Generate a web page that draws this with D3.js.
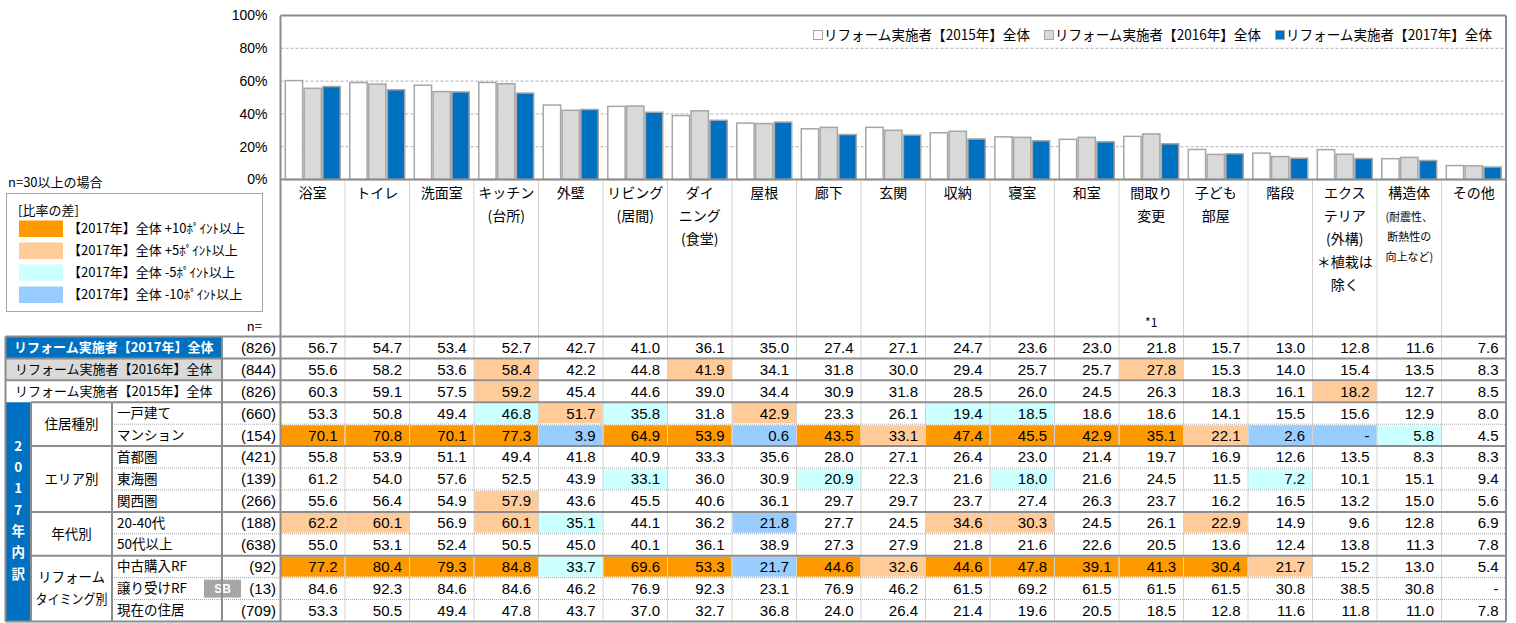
<!DOCTYPE html>
<html lang="ja">
<head>
<meta charset="utf-8">
<script src="https://cdn.jsdelivr.net/npm/d3@7"></script>
<style>
  body { margin: 0; background: #fff; }
  svg text { font-family: "Noto Sans CJK JP", sans-serif; fill: #000; }
  svg text.num { font-family: "Liberation Sans", Arial, sans-serif; }
</style>
</head>
<body>
<svg id="chart" width="1516" height="623"></svg>
<script>
// column headers
const categories = ["浴室", "トイレ", "洗面室", "キッチン\n(台所)", "外壁", "リビング\n(居間)", "ダイ\nニング\n(食堂)",
  "屋根", "廊下", "玄関", "収納", "寝室", "和室", "間取り\n変更", "子ども\n部屋", "階段",
  "エクス\nテリア\n(外構)\n＊植栽は\n除く", "構造体", "その他"];
const categoryNotes = ["", "", "", "", "", "", "", "", "", "", "", "", "", "*1", "", "", "", "(耐震性、\n断熱性の\n向上など)", ""];

// chart series
const years = ["2015", "2016", "2017"];
const seriesLabels = ["リフォーム実施者【2015年】全体", "リフォーム実施者【2016年】全体", "リフォーム実施者【2017年】全体"];
const yTicks = [0, 20, 40, 60, 80, 100];

// table rows
const rowLabels = ["リフォーム実施者【2017年】全体", "リフォーム実施者【2016年】全体", "リフォーム実施者【2015年】全体",
  "一戸建て", "マンション", "首都圏", "東海圏", "関西圏", "20-40代", "50代以上", "中古購入RF", "譲り受けRF", "現在の住居"];
const rowN = [826, 844, 826, 660, 154, 421, 139, 266, 188, 638, 92, 13, 709];
const groupLabels = ["住居種別", "エリア別", "年代別", "リフォーム\nタイミング別"];
const groupRows = [[3, 4], [5, 7], [8, 9], [10, 12]];
const breakdownLabel = ["2", "0", "1", "7", "年", "内", "訳"];

const total2017 = [56.7, 54.7, 53.4, 52.7, 42.7, 41.0, 36.1, 35.0, 27.4, 27.1, 24.7, 23.6, 23.0, 21.8, 15.7, 13.0, 12.8, 11.6, 7.6];
const total2016 = [55.6, 58.2, 53.6, 58.4, 42.2, 44.8, 41.9, 34.1, 31.8, 30.0, 29.4, 25.7, 25.7, 27.8, 15.3, 14.0, 15.4, 13.5, 8.3];
const total2015 = [60.3, 59.1, 57.5, 59.2, 45.4, 44.6, 39.0, 34.4, 30.9, 31.8, 28.5, 26.0, 24.5, 26.3, 18.3, 16.1, 18.2, 12.7, 8.5];
const detached = [53.3, 50.8, 49.4, 46.8, 51.7, 35.8, 31.8, 42.9, 23.3, 26.1, 19.4, 18.5, 18.6, 18.6, 14.1, 15.5, 15.6, 12.9, 8.0];
const condo = [70.1, 70.8, 70.1, 77.3, 3.9, 64.9, 53.9, 0.6, 43.5, 33.1, 47.4, 45.5, 42.9, 35.1, 22.1, 2.6, null, 5.8, 4.5];
const shutoken = [55.8, 53.9, 51.1, 49.4, 41.8, 40.9, 33.3, 35.6, 28.0, 27.1, 26.4, 23.0, 21.4, 19.7, 16.9, 12.6, 13.5, 8.3, 8.3];
const tokai = [61.2, 54.0, 57.6, 52.5, 43.9, 33.1, 36.0, 30.9, 20.9, 22.3, 21.6, 18.0, 21.6, 24.5, 11.5, 7.2, 10.1, 15.1, 9.4];
const kansai = [55.6, 56.4, 54.9, 57.9, 43.6, 45.5, 40.6, 36.1, 29.7, 29.7, 23.7, 27.4, 26.3, 23.7, 16.2, 16.5, 13.2, 15.0, 5.6];
const age20to40 = [62.2, 60.1, 56.9, 60.1, 35.1, 44.1, 36.2, 21.8, 27.7, 24.5, 34.6, 30.3, 24.5, 26.1, 22.9, 14.9, 9.6, 12.8, 6.9];
const age50plus = [55.0, 53.1, 52.4, 50.5, 45.0, 40.1, 36.1, 38.9, 27.3, 27.9, 21.8, 21.6, 22.6, 20.5, 13.6, 12.4, 13.8, 11.3, 7.8];
const usedPurchase = [77.2, 80.4, 79.3, 84.8, 33.7, 69.6, 53.3, 21.7, 44.6, 32.6, 44.6, 47.8, 39.1, 41.3, 30.4, 21.7, 15.2, 13.0, 5.4];
const inherited = [84.6, 92.3, 84.6, 84.6, 46.2, 76.9, 92.3, 23.1, 76.9, 46.2, 61.5, 69.2, 61.5, 61.5, 61.5, 30.8, 38.5, 30.8, null];
const currentHome = [53.3, 50.5, 49.4, 47.8, 43.7, 37.0, 32.7, 36.8, 24.0, 26.4, 21.4, 19.6, 20.5, 18.5, 12.8, 11.6, 11.8, 11.0, 7.8];

const rowValues = [total2017, total2016, total2015, detached, condo, shutoken, tokai, kansai,
  age20to40, age50plus, usedPurchase, inherited, currentHome];
const seriesValues = [total2015, total2016, total2017];

// difference legend
const diffLabels = ["【2017年】全体 +10ﾎﾟｲﾝﾄ以上", "【2017年】全体 +5ﾎﾟｲﾝﾄ以上", "【2017年】全体 -5ﾎﾟｲﾝﾄ以上", "【2017年】全体 -10ﾎﾟｲﾝﾄ以上"];
const diffColors = ["#FF9900", "#FFCC99", "#CCFFFF", "#99CCFF"];

// colours / layout
const barFill = { "2015": "#FFFFFF", "2016": "#D9D9D9", "2017": "#0070C0" };
const lineGray = "#8C8C8C";
const dotGray = "#A6A6A6";
const plotLeft = 280.5, plotRight = 1506, plotTop = 15.5, plotBottom = 179.5;
const tableTop = 336.5, tableBottom = 621.5;
const xLeft = 5.5, xGroup = 31, xSub = 112, xN = 222;

const svg = d3.select("#chart");

const x = d3.scaleBand().domain(d3.range(categories.length)).range([plotLeft, plotRight])
  .paddingInner(0.125).paddingOuter(0.0625);
const col = d3.scaleBand().domain(d3.range(categories.length)).range([plotLeft, plotRight]);
const xSeries = d3.scaleBand().domain(years).range([0, x.bandwidth()]);
const y = d3.scaleLinear().domain([0, 100]).range([plotBottom, plotTop]);
const row = d3.scaleBand().domain(d3.range(rowLabels.length)).range([tableTop, tableBottom]);

// gridlines
svg.append("g").selectAll("line")
  .data(yTicks.filter(d => d > 0 && d < 100))
  .enter().append("line")
  .attr("x1", plotLeft).attr("x2", plotRight)
  .attr("y1", d => y(d)).attr("y2", d => y(d))
  .attr("stroke", "#B0B0B0").attr("stroke-dasharray", "3,2");

// bars
const groups = svg.append("g").selectAll("g")
  .data(categories.map((c, i) => i))
  .enter().append("g")
  .attr("transform", i => `translate(${x(i)},0)`);

groups.selectAll("rect")
  .data(i => years.map((yr, s) => ({ year: yr, value: seriesValues[s][i] })))
  .enter().append("rect")
  .attr("x", d => xSeries(d.year) + 0.75)
  .attr("width", xSeries.bandwidth() - 1.5)
  .attr("y", d => y(d.value))
  .attr("height", d => y(0) - y(d.value))
  .attr("fill", d => barFill[d.year])
  .attr("stroke", "#A6A6A6")
  .attr("stroke-width", 1.5);

// y axis labels
const yAxis = svg.append("g")
  .attr("transform", `translate(${plotLeft},0)`)
  .call(d3.axisLeft(y).tickValues(yTicks).tickFormat(d => d + "%").tickSize(0).tickPadding(13));
yAxis.select(".domain").remove();
yAxis.selectAll("text").attr("class", "num").style("font-size", "14px").style("font-family", "'Liberation Sans', Arial, sans-serif").attr("fill", "#000");

// top legend
const legend = svg.append("g");
let lx = 0;
seriesLabels.forEach((label, s) => {
  const item = legend.append("g").attr("transform", `translate(${lx},0)`);
  item.append("rect")
    .attr("x", 0.5).attr("y", -4.5).attr("width", 9).attr("height", 9)
    .attr("fill", barFill[years[s]]).attr("stroke", "#A6A6A6");
  const t = item.append("text")
    .attr("x", 11).attr("y", 0).attr("dy", "0.35em")
    .style("font-size", "14px")
    .attr("textLength", 206).attr("lengthAdjust", "spacingAndGlyphs")
    .text(label);
  lx += 11 + 206 + 14;
});
legend.attr("transform", `translate(${1492 - (lx - 14)},35)`);

// category header labels
categories.forEach((c, i) => {
  const cx = col(i) + col.bandwidth() / 2;
  c.split("\n").forEach((line, k) => {
    svg.append("text")
      .attr("x", cx).attr("y", 193 + k * 23).attr("dy", "0.35em")
      .attr("text-anchor", "middle")
      .style("font-size", "14px")
      .text(line);
  });
  const note = categoryNotes[i];
  if (note === "*1") {
    svg.append("text")
      .attr("x", cx).attr("y", 323).attr("dy", "0.35em")
      .attr("text-anchor", "middle")
      .style("font-size", "12px")
      .text(note);
  } else if (note) {
    note.split("\n").forEach((line, k) => {
      svg.append("text")
        .attr("x", cx).attr("y", 217 + k * 20).attr("dy", "0.35em")
        .attr("text-anchor", "middle")
        .style("font-size", "11px")
        .text(line);
    });
  }
});

// cell colour from difference against 2017 total
function diffColor(v, base) {
  const d = Math.round(((v == null ? 0 : v) - base) * 10) / 10;
  if (d >= 10) return diffColors[0];
  if (d >= 5) return diffColors[1];
  if (d <= -10) return diffColors[3];
  if (d <= -5) return diffColors[2];
  return null;
}

// table cells
rowValues.forEach((vals, r) => {
  vals.forEach((v, i) => {
    const fill = (r > 0 && rowN[r] >= 30) ? diffColor(v, total2017[i]) : null;
    if (fill) {
      svg.append("rect")
        .attr("x", col(i) + 0.5).attr("y", row(r) + 1)
        .attr("width", col.bandwidth() - 1).attr("height", row.bandwidth() - 2)
        .attr("fill", fill);
    }
    svg.append("text")
      .attr("class", "num")
      .attr("x", col(i) + col.bandwidth() - 7.5)
      .attr("y", row(r) + row.bandwidth() / 2).attr("dy", "0.36em")
      .attr("text-anchor", "end")
      .style("font-size", "15px")
      .text(v == null ? "-" : v.toFixed(1));
  });
});

// left label cells
svg.append("rect").attr("x", xLeft).attr("y", row(0)).attr("width", xN - xLeft).attr("height", row.bandwidth()).attr("fill", "#0070C0");
svg.append("rect").attr("x", xLeft).attr("y", row(1)).attr("width", xN - xLeft).attr("height", row.bandwidth()).attr("fill", "#D9D9D9");
svg.append("rect").attr("x", xLeft).attr("y", row(3)).attr("width", xGroup - xLeft).attr("height", tableBottom - row(3)).attr("fill", "#0070C0");

[0, 1, 2].forEach(r => {
  svg.append("text")
    .attr("x", (xLeft + xN) / 2).attr("y", row(r) + row.bandwidth() / 2).attr("dy", "0.35em")
    .attr("text-anchor", "middle")
    .style("font-size", "13px")
    .style("font-weight", r === 0 ? "bold" : "normal")
    .style("fill", r === 0 ? "#fff" : "#000")
    .text(rowLabels[r]);
});

rowLabels.slice(3).forEach((label, k) => {
  const r = k + 3;
  svg.append("text")
    .attr("x", xSub + 5).attr("y", row(r) + row.bandwidth() / 2).attr("dy", "0.35em")
    .style("font-size", "13.5px")
    .text(label);
});

rowN.forEach((n, r) => {
  svg.append("text")
    .attr("class", "num")
    .attr("x", plotLeft - 4.5).attr("y", row(r) + row.bandwidth() / 2).attr("dy", "0.36em")
    .attr("text-anchor", "end")
    .style("font-size", "15px")
    .text(`(${n})`);
});

// SB badge for small sample
const sbRow = rowN.findIndex(n => n < 30);
svg.append("rect")
  .attr("x", 204).attr("y", row(sbRow) + 2).attr("width", 37).attr("height", row.bandwidth() - 4)
  .attr("fill", "#A6A6A6");
svg.append("text")
  .attr("class", "num")
  .attr("x", 222.5).attr("y", row(sbRow) + row.bandwidth() / 2).attr("dy", "0.36em")
  .attr("text-anchor", "middle")
  .style("font-size", "12px").style("font-weight", "bold").style("fill", "#fff")
  .text("SB");

groupLabels.forEach((label, g) => {
  const [a, b] = groupRows[g];
  const cy = (row(a) + row(b) + row.bandwidth()) / 2;
  const lines = label.split("\n");
  lines.forEach((line, k) => {
    const t = svg.append("text")
      .attr("x", (xGroup + xSub) / 2)
      .attr("y", cy + (k - (lines.length - 1) / 2) * 22).attr("dy", "0.35em")
      .attr("text-anchor", "middle")
      .style("font-size", "13.5px")
      .text(line);
    if (t.node().getComputedTextLength() > 72) {
      t.attr("textLength", 72).attr("lengthAdjust", "spacingAndGlyphs");
    }
  });
});

breakdownLabel.forEach((ch, k) => {
  svg.append("text")
    .attr("x", (xLeft + xGroup) / 2)
    .attr("y", 446 + k * 21.3).attr("dy", "0.35em")
    .attr("text-anchor", "middle")
    .style("font-size", "13.5px").style("font-weight", "bold").style("fill", "#fff")
    .text(ch);
});

// table lines
const lines = svg.append("g").attr("fill", "none");
// dotted verticals between category columns
d3.range(1, categories.length).forEach(i => {
  lines.append("line")
    .attr("x1", col(i)).attr("x2", col(i))
    .attr("y1", plotBottom).attr("y2", tableBottom)
    .attr("stroke", dotGray).attr("stroke-dasharray", "1,1");
});
// horizontal row separators
d3.range(1, rowLabels.length).forEach(r => {
  const grp = groupRows.find(([a, b]) => r > a && r <= b);
  if (grp) {
    lines.append("line")
      .attr("x1", xSub).attr("x2", plotRight)
      .attr("y1", row(r)).attr("y2", row(r))
      .attr("stroke", dotGray).attr("stroke-dasharray", "1,1");
  } else {
    lines.append("line")
      .attr("x1", r >= 3 ? xGroup : xLeft).attr("x2", plotRight)
      .attr("y1", row(r)).attr("y2", row(r))
      .attr("stroke", lineGray).attr("stroke-width", 2);
  }
});
// solid frame lines
const solid = [
  [xLeft, tableTop, plotRight, tableTop],
  [xLeft, tableBottom, plotRight, tableBottom],
  [xLeft, tableTop, xLeft, tableBottom],
  [xGroup, row(3), xGroup, tableBottom],
  [xSub, row(3), xSub, tableBottom],
  [xN, tableTop, xN, tableBottom],
  [plotLeft, plotTop, plotLeft, tableBottom],
  [plotRight, plotTop, plotRight, tableBottom],
  [plotLeft, plotTop, plotRight, plotTop],
  [plotLeft, plotBottom, plotRight, plotBottom]
];
solid.forEach(([x1, y1, x2, y2]) => {
  lines.append("line")
    .attr("x1", x1).attr("y1", y1).attr("x2", x2).attr("y2", y2)
    .attr("stroke", lineGray).attr("stroke-width", 2);
});

// left notes and difference legend
svg.append("text")
  .attr("x", 8).attr("y", 182).attr("dy", "0.35em")
  .style("font-size", "13px")
  .text("n=30以上の場合");
svg.append("text")
  .attr("x", 262).attr("y", 326).attr("dy", "0.35em")
  .attr("text-anchor", "end")
  .style("font-size", "13px")
  .text("n=");

const diffLegend = svg.append("g");
diffLegend.append("rect")
  .attr("x", 6.5).attr("y", 193.5).attr("width", 256).attr("height", 118)
  .attr("fill", "#fff").attr("stroke", "#A6A6A6");
diffLegend.append("text")
  .attr("x", 18).attr("y", 210).attr("dy", "0.35em")
  .style("font-size", "13px")
  .text("[比率の差]");
diffLabels.forEach((label, k) => {
  const cy = 228.5 + k * 22;
  diffLegend.append("rect")
    .attr("x", 19).attr("y", cy - 8).attr("width", 44).attr("height", 16.5)
    .attr("fill", diffColors[k]);
  diffLegend.append("text")
    .attr("x", 68).attr("y", cy).attr("dy", "0.35em")
    .style("font-size", "13px")
    .text(label);
});
</script>
</body>
</html>
